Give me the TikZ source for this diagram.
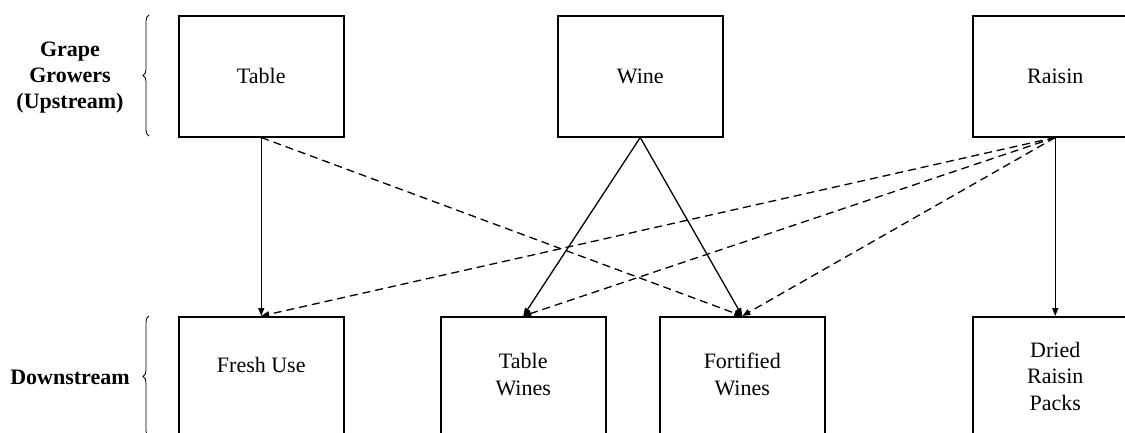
\documentclass[tikz,border=0pt]{standalone}
\usepackage{fontspec}
\setmainfont{Liberation Serif}
\newfontfamily\timesfont{Liberation Serif}
\usetikzlibrary{arrows.meta,decorations.pathreplacing}
\begin{document}
\begin{tikzpicture}[x=1pt,y=-1pt,
  box/.style={draw,line width=1.5pt,minimum width=165pt,minimum height=121pt,inner sep=0pt,anchor=north west},
  txt/.style={font=\timesfont\fontsize{22}{27}\selectfont,anchor=base,inner sep=0pt},
  lbl/.style={font=\timesfont\bfseries\fontsize{22}{26}\selectfont,align=center,inner sep=0pt},
  solidarrow/.style={line width=1.3pt,-{Triangle[length=8pt,width=6pt]}},
  dasharrow/.style={line width=1.3pt,dash pattern=on 8pt off 5pt,-{Triangle[length=8pt,width=6pt]}},
  bracestyle/.style={line width=0.8pt,decorate,decoration={brace,amplitude=6pt,aspect=0.5}}
]
\useasboundingbox (0,0) rectangle (1125,432);
% top boxes
\node[box] (table) at (178,15) {};
\node[box] (wine) at (557,15) {};
\node[box] (raisin) at (972,15) {};
% bottom boxes
\node[box] (fresh) at (178,316) {};
\node[box] (tablew) at (440,316) {};
\node[box] (fortw) at (659,316) {};
\node[box] (dried) at (972,316) {};
% texts
\node[txt] (ttable) at (table.center |- 0,83) {Table};
\node[txt] (twine) at (wine.center |- 0,83) {Wine};
\node[txt] (traisin) at (raisin.center |- 0,83) {Raisin};
\node[txt] (tfresh) at (fresh.center |- 0,372) {Fresh Use};
\node[txt] (ttw1) at (tablew.center |- 0,368) {Table};
\node[txt] (ttw2) at (tablew.center |- 0,395) {Wines};
\node[txt] (tfw1) at (fortw.center |- 0,368) {Fortified};
\node[txt] (tfw2) at (fortw.center |- 0,395) {Wines};
\node[txt] (td1) at (dried.center |- 0,357) {Dried};
\node[txt] (td2) at (dried.center |- 0,383) {Raisin};
\node[txt] (td3) at (dried.center |- 0,410) {Packs};
% side labels
\node[lbl] (up) at (70,78) {Grape\\Growers\\(Upstream)};
\node[lbl] (down) at (70,377) {Downstream};
% braces
\coordinate (b1s) at (149,136);
\coordinate (b1e) at (149,15);
\coordinate (b2s) at (149,437);
\coordinate (b2e) at (149,316);
\draw[bracestyle] (b1s) -- (b1e);
\draw[bracestyle] (b2s) -- (b2e);
% connectors
\draw[solidarrow] (table.south) -- (fresh.north);
\draw[dasharrow] (table.south) -- (fortw.north);
\draw[solidarrow] (wine.south) -- (tablew.north);
\draw[solidarrow] (wine.south) -- (fortw.north);
\draw[dasharrow] (raisin.south) -- (fresh.north);
\draw[dasharrow] (raisin.south) -- (tablew.north);
\draw[dasharrow] (raisin.south) -- (fortw.north);
\draw[solidarrow] (raisin.south) -- (dried.north);
\end{tikzpicture}
\end{document}
